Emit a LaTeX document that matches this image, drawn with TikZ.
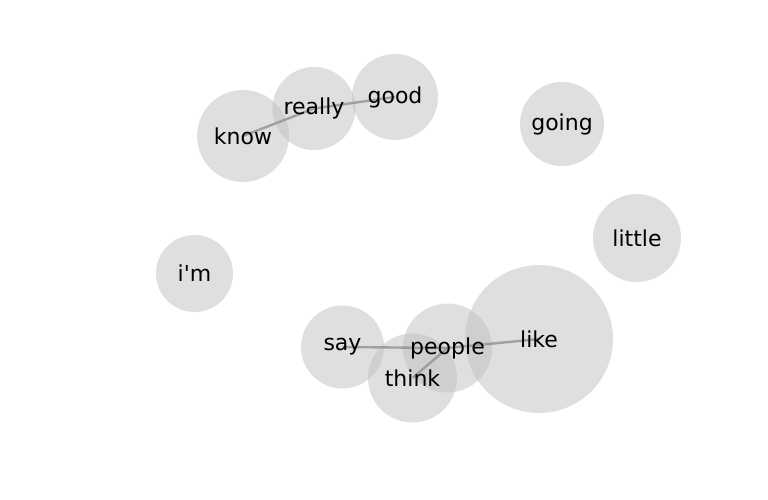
\documentclass[tikz,border=0pt]{standalone}
\usepackage{fontspec}
\newfontfamily\dv{DejaVu Sans}
\begin{document}
\begin{tikzpicture}[x=1pt,y=-1pt,
  bubble/.style={circle,fill=black!25,fill opacity=0.5,draw=none,inner sep=0pt},
  link/.style={draw=black!40,line width=2.4pt,opacity=0.9},
  lbl/.style={inner sep=0pt,font=\dv\fontsize{22}{26}\selectfont,text=black}]
\useasboundingbox (0,0) rectangle (768,500);
% bubbles
\node[bubble,minimum size=92pt] (know) at (243,136) {};
\node[bubble,minimum size=83pt] (really) at (314,108.5) {};
\node[bubble,minimum size=86pt] (good) at (395,97) {};
\node[bubble,minimum size=84pt] (going) at (562,124) {};
\node[bubble,minimum size=88pt] (little) at (637,238) {};
\node[bubble,minimum size=77pt] (im) at (194.5,273.5) {};
\node[bubble,minimum size=83pt] (say) at (342.5,347) {};
\node[bubble,minimum size=89pt] (think) at (412.5,378) {};
\node[bubble,minimum size=89pt] (people) at (447.5,348) {};
\node[bubble,minimum size=148pt] (like) at (539,339) {};
% links
\draw[link] (know.center) -- (really.center);
\draw[link] (really.center) -- (good.center);
\draw[link] (say.center) -- (people.center);
\draw[link] (people.center) -- (think.center);
\draw[link] (people.center) -- (like.center);
% labels
\node[lbl] (t-know) at (know) {know};
\node[lbl] (t-really) at (really) {really};
\node[lbl] (t-good) at (good) {good};
\node[lbl] (t-going) at (going) {going};
\node[lbl] (t-little) at (little) {little};
\node[lbl] (t-im) at (im) {i'm};
\node[lbl] (t-say) at (say) {say};
\node[lbl] (t-think) at (think) {think};
\node[lbl] (t-people) at (people) {people};
\node[lbl] (t-like) at (like) {like};
\end{tikzpicture}
\end{document}
